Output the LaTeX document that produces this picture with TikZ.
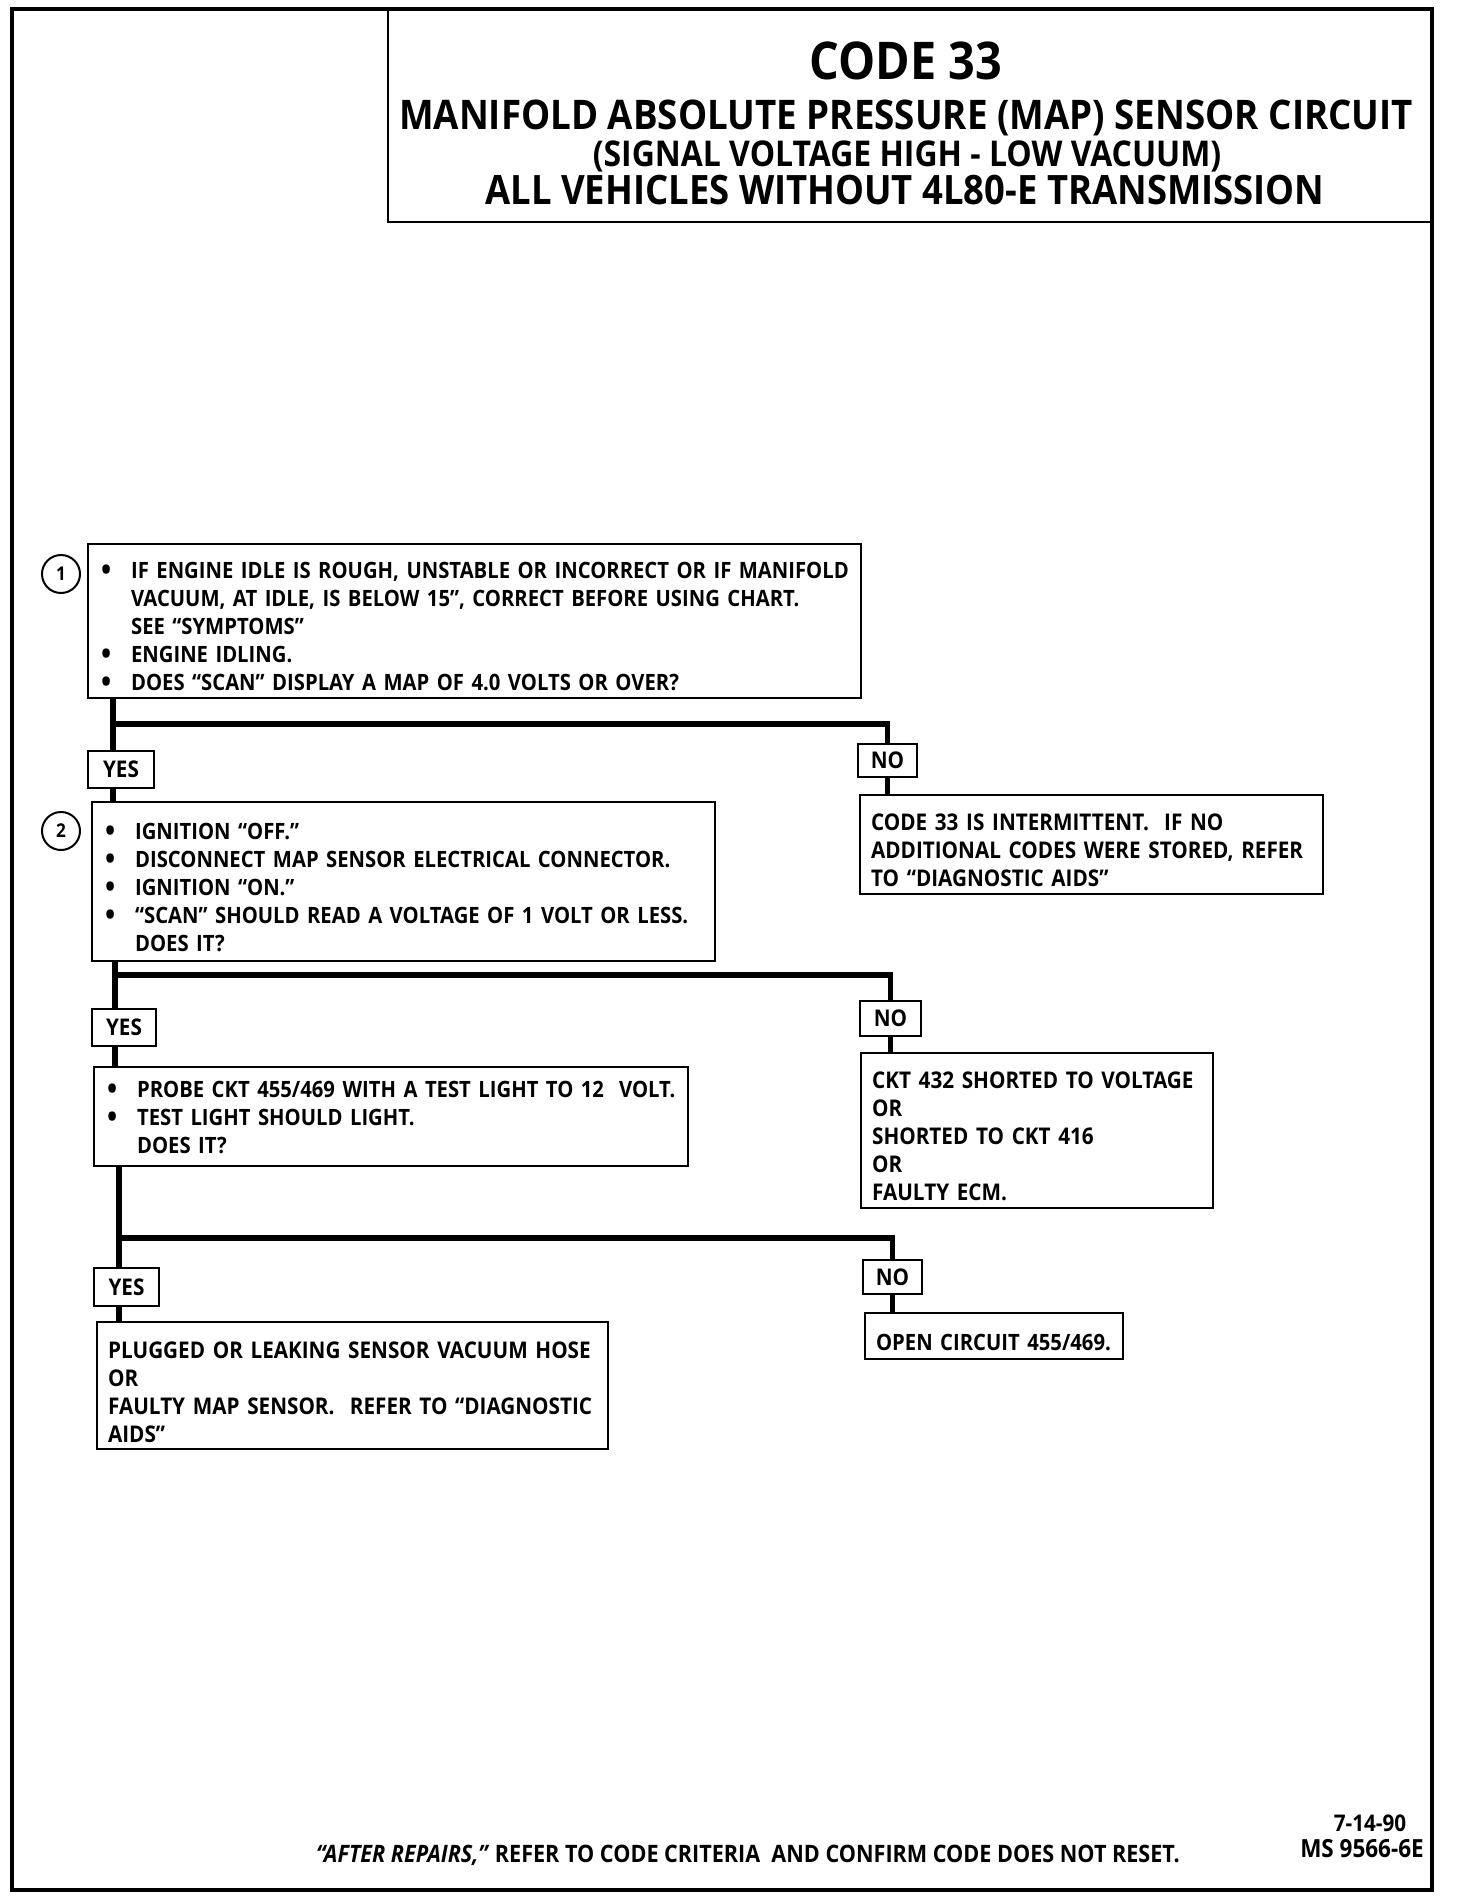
\documentclass[tikz,border=0pt]{standalone}
\usepackage{fontspec}
\setmainfont{Open Sans}[FakeStretch=0.9]
\usetikzlibrary{positioning,backgrounds}

\newcommand{\bul}{\hspace*{13pt}\makebox[30pt][l]{\raisebox{-2pt}{\fontsize{30}{30}\selectfont\textbullet}}}
\newcommand{\nobul}{\hspace*{43pt}}
\newcommand{\ind}{\hspace*{11pt}}

\tikzset{
  qtop/.initial=29pt,
  qbox/.style={draw, line width=2.2pt, anchor=north west, align=left,
    inner xsep=0pt, inner ysep=2pt,
    execute at begin node={\rule{0pt}{\pgfkeysvalueof{/tikz/qtop}}},
    font=\bfseries\fontsize{22.5}{28}\selectfont},
  rbox/.style={qbox, font=\bfseries\fontsize{23}{28}\selectfont},
  ansbox/.style={draw, line width=2.2pt, fill=white, inner sep=0pt,
    font=\bfseries\fontsize{23}{24}\selectfont},
  num/.style={circle, draw, line width=2pt, minimum size=38pt, inner sep=0pt,
    font=\bfseries\fontsize{19}{20}\selectfont},
  wire/.style={line width=5.5pt},
}

\begin{document}
\begin{tikzpicture}[x=1pt, y=-1pt]
\useasboundingbox (0,0) rectangle (1472,1900);

    % frame and title
    \draw[line width=4pt] (12,9) rectangle (1432,1890);
    \draw[line width=2.5pt] (388,9) rectangle (1432,222);
    \node[anchor=base, font=\bfseries\fontsize{52}{56}\selectfont] (code) at (906,80) {CODE 33};
    \node[anchor=base, font=\bfseries\fontsize{40.8}{44}\selectfont] (t1) at (906,129) {MANIFOLD ABSOLUTE PRESSURE (MAP) SENSOR CIRCUIT};
    \node[anchor=base, font=\bfseries\fontsize{35.5}{38}\selectfont] (t2) at (907,166) {(SIGNAL VOLTAGE HIGH - LOW VACUUM)};
    \node[anchor=base, font=\bfseries\fontsize{40.5}{44}\selectfont] (t3) at (905,204) {ALL VEHICLES WITHOUT 4L80-E TRANSMISSION};

    % step 1
    \node[num] (c1) at (61,574) {1};
    \node[qbox, text width=773pt, minimum height=154pt] (q1) at (87,543)
      {\bul IF ENGINE IDLE IS ROUGH, UNSTABLE OR INCORRECT OR IF MANIFOLD\\
       \nobul VACUUM, AT IDLE, IS BELOW 15”, CORRECT BEFORE USING CHART.\\
       \nobul SEE “SYMPTOMS”\\
       \bul ENGINE IDLING.\\
       \bul DOES “SCAN” DISPLAY A MAP OF 4.0 VOLTS OR OVER?};
    \coordinate (h1) at (0,724);
    \node[ansbox, minimum width=66pt, minimum height=37pt] (yes1) at (121,769.5) {YES};
    \node[ansbox, minimum width=59pt, minimum height=33pt] (no1) at (887.5,760.5) {NO};
    \node[rbox, text width=463pt, minimum height=99pt] (r1) at (859,794)
      {\ind CODE 33 IS INTERMITTENT.\ \ IF NO\\
       \ind ADDITIONAL CODES WERE STORED, REFER\\
       \ind TO “DIAGNOSTIC AIDS”};

    % step 2
    \node[num] (c2) at (61,831) {2};
    \node[qbox, text width=623pt, minimum height=159pt] (q2) at (91,801)
      {\bul IGNITION “OFF.”\\
       \bul DISCONNECT MAP SENSOR ELECTRICAL CONNECTOR.\\
       \bul IGNITION “ON.”\\
       \bul “SCAN” SHOULD READ A VOLTAGE OF 1 VOLT OR LESS.\\
       \nobul DOES IT?};
    \coordinate (h2) at (0,975);
    \node[ansbox, minimum width=64pt, minimum height=37pt] (yes2) at (124,1027.5) {YES};
    \node[ansbox, minimum width=61pt, minimum height=35pt] (no2) at (890.5,1018.5) {NO};
    \node[rbox, text width=352pt, minimum height=155pt] (r2) at (860,1052)
      {\ind CKT 432 SHORTED TO VOLTAGE\\
       \ind OR\\
       \ind SHORTED TO CKT 416\\
       \ind OR\\
       \ind FAULTY ECM.};

    % step 3
    \node[qbox, qtop=19pt, text width=594pt, minimum height=99pt] (q3) at (93,1066)
      {\bul PROBE CKT 455/469 WITH A TEST LIGHT TO 12\ \ VOLT.\\
       \bul TEST LIGHT SHOULD LIGHT.\\
       \nobul DOES IT?};
    \coordinate (h3) at (0,1238);
    \node[ansbox, minimum width=65pt, minimum height=38pt] (yes3) at (126.5,1287) {YES};
    \node[ansbox, minimum width=59pt, minimum height=34pt] (no3) at (892.5,1277) {NO};
    \node[rbox, text width=511pt, minimum height=127pt] (r3) at (96,1321)
      {\ind PLUGGED OR LEAKING SENSOR VACUUM HOSE\\
       \ind OR\\
       \ind FAULTY MAP SENSOR.\ \ REFER TO “DIAGNOSTIC\\
       \ind AIDS”};
    \node[rbox, text width=258pt, minimum height=46pt, font=\bfseries\fontsize{22.5}{28}\selectfont] (r4) at (864,1312)
      {\ind OPEN CIRCUIT 455/469.};

    % wires
    \begin{scope}[on background layer]
    \draw[wire] ([xshift=26pt]q1.south west) coordinate (s1) -- (s1 |- q2.north);
    \draw[wire] (s1 |- h1) -| (no1.north);
    \draw[wire] (no1.south) -- (no1.south |- r1.north);
    \draw[wire] ([xshift=24pt]q2.south west) coordinate (s2) -- (s2 |- q3.north);
    \draw[wire] (s2 |- h2) -| (no2.north);
    \draw[wire] (no2.south) -- (no2.south |- r2.north);
    \draw[wire] ([xshift=26pt]q3.south west) coordinate (s3) -- (s3 |- r3.north);
    \draw[wire] (s3 |- h3) -| (no3.north);
    \draw[wire] (no3.south) -- (no3.south |- r4.north);
    \end{scope}

    % footer
    \node[anchor=base, font=\bfseries\fontsize{24}{26}\selectfont] (foot) at (748,1862)
      {\textit{“AFTER REPAIRS,”} REFER TO CODE CRITERIA\ \ AND CONFIRM CODE DOES NOT RESET.};
    \node[font=\bfseries\fontsize{23}{26}\selectfont] (date) at (1370,1823) {7-14-90};
    \node[font=\bfseries\fontsize{25}{28}\selectfont] (ms) at (1362,1849) {MS 9566-6E};

\end{tikzpicture}
\end{document}
